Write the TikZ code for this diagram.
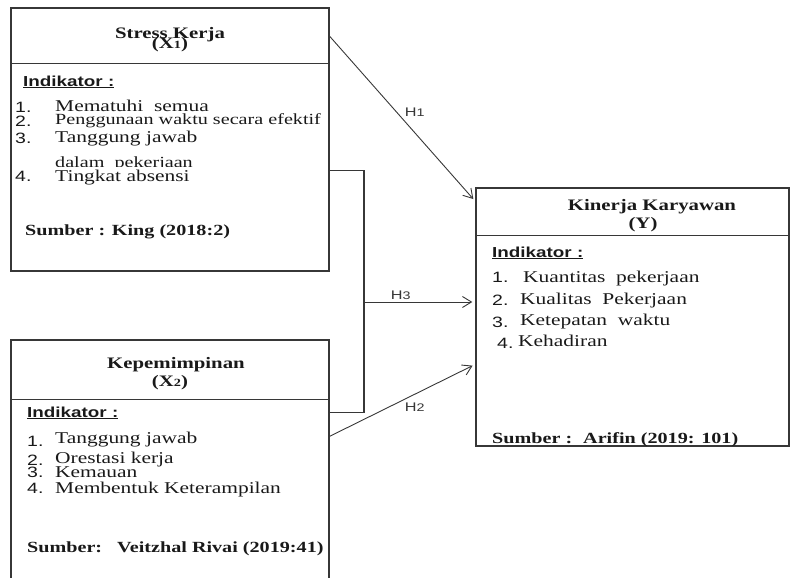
\documentclass[tikz,border=0pt]{standalone}
\usepackage{fontspec}
\usepackage{xcolor}
\usetikzlibrary{positioning}
\usetikzlibrary{arrows.meta}
\newfontfamily\boxserif[FakeStretch=1.3]{Liberation Serif}
\newfontfamily\boxsans[FakeStretch=1.3]{Liberation Sans}
\definecolor{linegray}{RGB}{55,55,55}
\definecolor{inkblack}{RGB}{25,25,25}
\tikzset{
  % variable boxes
  varbox/.style={draw=linegray, line width=1.4pt, rectangle, inner sep=0pt},
  divider/.style={draw=linegray, line width=1.4pt},
  % texts inside the boxes
  title/.style={font=\boxserif\bfseries\fontsize{16}{16}\selectfont, text=inkblack, inner sep=0pt, anchor=base},
  head/.style={font=\boxsans\bfseries\fontsize{14.5}{14.5}\selectfont, text=inkblack, inner sep=0pt, anchor=base west},
  num/.style={font=\boxsans\fontsize{15}{15}\selectfont, text=inkblack, inner sep=0pt, anchor=base west},
  item/.style={font=\boxserif\fontsize{16.5}{16.5}\selectfont, text=inkblack, inner sep=0pt, anchor=base west},
  source/.style={font=\boxserif\bfseries\fontsize{15.5}{15.5}\selectfont, text=inkblack, inner sep=0pt, anchor=base west},
  % hypothesis arrows
  hyp/.style={draw=linegray, line width=0.9pt, -{Straight Barb[length=9pt,width=11pt]}, shorten >=3pt},
  link/.style={draw=linegray, line width=1.2pt},
  lab/.style={font=\boxsans\fontsize{12.5}{12.5}\selectfont, text=linegray, inner sep=2pt},
}
\newcommand{\smallsub}[1]{{\fontsize{11}{11}\selectfont #1}}

\begin{document}
\begin{tikzpicture}[x=1pt, y=-1pt]
  \useasboundingbox (0,0) rectangle (790,578);

  % Stress Kerja
  \node[varbox, minimum width=318pt, minimum height=263pt] (stress) at (170,139.5) {};
  \draw[divider] ([yshift=-56pt]stress.north west) -- ([yshift=-56pt]stress.north east);
  \node[title] (stresst) at (170,39) {Stress Kerja};
  \node[title] (stressx) at (170,49) {(X\smallsub{1})};
  \node[head] (stressind) at (23,86) {\underline{Indikator :}};
  \node[num] (sn1) at (15,112) {1.};
  \node[item] (si1) at (55,111) {Mematuhi\ \ semua};
  \node[num] (sn2) at (15,126) {2.};
  \node[item, font=\boxserif\fontsize{15.5}{15.5}\selectfont] (si2) at (55,124) {Penggunaan waktu secara efektif};
  \node[num] (sn3) at (15,143) {3.};
  \node[item] (si3) at (55,142) {Tanggung jawab};
  \node[item, font=\boxserif\fontsize{15.5}{15.5}\selectfont] (si3b) at (55,167) {dalam\ \ pekerjaan};
  \node[num] (sn4) at (15,181) {4.};
  \node[item, fill=white, inner ysep=3pt] (si4) at (55,181) {Tingkat absensi};
  \node[source] (ssrc) at (25,235) {Sumber : King (2018:2)};

  % Kepemimpinan
  \node[varbox, minimum width=318pt, minimum height=260pt] (pemimpin) at (170,470) {};
  \draw[divider] ([yshift=-60pt]pemimpin.north west) -- ([yshift=-60pt]pemimpin.north east);
  \node[title] (pemimpint) at (176,368) {Kepemimpinan};
  \node[title] (pemimpinx) at (170,386) {(X\smallsub{2})};
  \node[head] (pemimpinind) at (27,417) {\underline{Indikator :}};
  \node[num] (pn1) at (27,446) {1.};
  \node[item] (pi1) at (55,443) {Tanggung jawab};
  \node[num] (pn2) at (27,465) {2.};
  \node[item] (pi2) at (55,463) {Orestasi kerja};
  \node[num] (pn3) at (27,477) {3.};
  \node[item] (pi3) at (55,477) {Kemauan};
  \node[num] (pn4) at (27,493) {4.};
  \node[item] (pi4) at (55,493) {Membentuk Keterampilan};
  \node[source] (psrca) at (27,552) {Sumber:};
  \node[source] (psrcb) at (117,552) {Veitzhal Rivai (2019:41)};

  % Kinerja Karyawan
  \node[varbox, minimum width=313pt, minimum height=258pt] (kinerja) at (632.5,317) {};
  \draw[divider] ([yshift=-48pt]kinerja.north west) -- ([yshift=-48pt]kinerja.north east);
  \node[title] (kinerjat) at (652,210) {Kinerja Karyawan};
  \node[title] (kinerjay) at (643,228) {(Y)};
  \node[head] (kinerjaind) at (492,257) {\underline{Indikator :}};
  \node[num] (kn1) at (492,282) {1.};
  \node[item] (ki1) at (523,282) {Kuantitas\ \ pekerjaan};
  \node[num] (kn2) at (492,305) {2.};
  \node[item] (ki2) at (520,304) {Kualitas\ \ Pekerjaan};
  \node[num] (kn3) at (492,327) {3.};
  \node[item] (ki3) at (520,325) {Ketepatan\ \ waktu};
  \node[num] (kn4) at (497,348) {4.};
  \node[item] (ki4) at (518,346) {Kehadiran};
  \node[source] (ksrca) at (492,443) {Sumber :};
  \node[source] (ksrcb) at (583,443) {Arifin (2019: 101)};

  % hypotheses
  \coordinate (joint) at (364,302);
  \draw[link] ([yshift=-163pt]stress.north east) -| (joint)
    |- ([yshift=-73pt]pemimpin.north east);
  \draw[hyp] ([yshift=-29pt]stress.north east) -- ([yshift=-14pt]kinerja.north west)
    node[lab, midway, above right] {H\smallsub{1}};
  \draw[hyp] (joint) -- (kinerja.west |- joint)
    node[lab, pos=0.33, above] {H\smallsub{3}};
  \draw[hyp] ([yshift=-97pt]pemimpin.north east) -- ([yshift=-177pt]kinerja.north west)
    node[lab, pos=0.5, below right] {H\smallsub{2}};
\end{tikzpicture}
\end{document}
